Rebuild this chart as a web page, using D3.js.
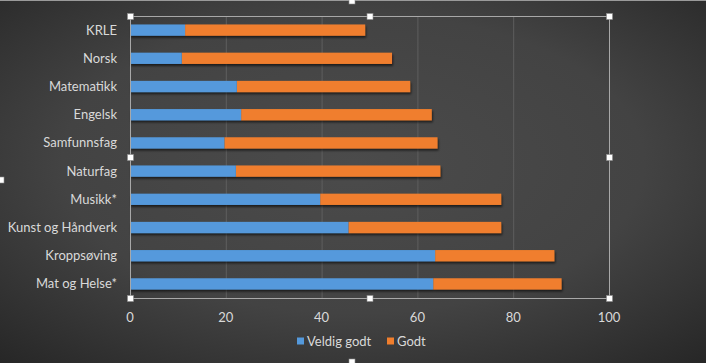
<!DOCTYPE html>
<html>
<head>
<meta charset="utf-8">
<script src="https://cdn.jsdelivr.net/npm/d3@7"></script>
<style>
  html, body { margin: 0; padding: 0; background: #333; }
  svg { display: block; }
  text { font-family: Lato, "Open Sans", sans-serif; }
</style>
</head>
<body>
<div class="vis-bar"></div>
<script>
// data
const subjects = ["KRLE", "Norsk", "Matematikk", "Engelsk", "Samfunnsfag", "Naturfag",
  "Musikk*", "Kunst og Håndverk", "Kroppsøving", "Mat og Helse*"];
const veldigGodt = [11.5, 10.8, 22.3, 23.2, 19.7, 22.1, 39.7, 45.6, 63.7, 63.3];
const godt = [37.6, 43.9, 36.2, 39.8, 44.5, 42.7, 37.8, 31.9, 24.9, 26.8];
const seriesNames = ["Veldig godt", "Godt"];
const xTicks = [0, 20, 40, 60, 80, 100];

const W = 706, H = 363;
const margin = { top: 16, right: 97, bottom: 65, left: 130 };

const svg = d3.select('.vis-bar')
  .append('svg')
  .attr('width', W)
  .attr('height', H);

const defs = svg.append('defs');
const bg = defs.append('radialGradient')
  .attr('id', 'bg')
  .attr('cx', '50%').attr('cy', '45%').attr('r', '75%')
  .attr('gradientTransform', 'translate(0,-0.0) scale(1,1)');
bg.append('stop').attr('offset', '0%').attr('stop-color', '#4b4b4b');
bg.append('stop').attr('offset', '55%').attr('stop-color', '#434343');
bg.append('stop').attr('offset', '100%').attr('stop-color', '#262626');

const shadow = defs.append('filter').attr('id', 'shadow')
  .attr('x', '-5%').attr('y', '-30%').attr('width', '110%').attr('height', '180%');
shadow.append('feDropShadow')
  .attr('dx', 1).attr('dy', 2).attr('stdDeviation', 1.2)
  .attr('flood-color', '#000').attr('flood-opacity', 0.6);

svg.append('rect').attr('width', W).attr('height', H).attr('fill', 'url(#bg)');
// chart frame top edge
svg.append('line').attr('x1', 0).attr('x2', W).attr('y1', 0.5).attr('y2', 0.5)
  .attr('stroke', '#9a9a9a').attr('stroke-width', 1);

const x = d3.scaleLinear().domain([0, 100]).range([margin.left, W - margin.right]);
const y = d3.scaleBand().domain(subjects)
  .range([margin.top, H - margin.bottom]).paddingInner(0.6).paddingOuter(0.3);

// gridlines
svg.append('g').selectAll('line')
  .data(xTicks.slice(1, -1))
  .enter().append('line')
  .attr('x1', d => x(d) + 0.5).attr('x2', d => x(d) + 0.5)
  .attr('y1', margin.top).attr('y2', H - margin.bottom)
  .attr('stroke', '#5e5e5e').attr('stroke-width', 1);

// stacked bars
const rows = subjects.map((s, i) => ({ label: s, a: veldigGodt[i], b: godt[i] }));
const stack = d3.stack().keys(['a', 'b'])(rows);
const color = d3.scaleOrdinal().domain(['a', 'b']).range(['#5499dc', '#f07e2d']);

const barsG = svg.append('g').attr('filter', 'url(#shadow)');
barsG.selectAll('g')
  .data(stack.slice().reverse())
  .enter().append('g')
  .attr('fill', d => color(d.key))
  .selectAll('rect')
  .data(d => d)
  .enter().append('rect')
  .attr('x', d => x(d[0]))
  .attr('width', d => x(d[1]) - x(d[0]))
  .attr('y', d => y(d.data.label))
  .attr('height', y.bandwidth());

// category labels
svg.append('g').selectAll('text')
  .data(subjects)
  .enter().append('text')
  .attr('x', margin.left - 13)
  .attr('y', d => y(d) + y.bandwidth() / 2)
  .attr('dy', '0.35em')
  .attr('text-anchor', 'end')
  .attr('fill', '#d9d9d9')
  .style('font-size', '13px')
  .text(d => d);

// x tick labels
svg.append('g').selectAll('text')
  .data(xTicks)
  .enter().append('text')
  .attr('x', d => x(d))
  .attr('y', 317)
  .attr('dy', '0.35em')
  .attr('text-anchor', 'middle')
  .attr('fill', '#d9d9d9')
  .style('font-size', '13px')
  .text(d => d);

// plot-area selection frame
const px0 = x(0) + 0.5, px1 = x(100) + 0.5, py0 = margin.top + 0.5, py1 = H - margin.bottom + 0.5;
svg.append('rect')
  .attr('x', px0).attr('y', py0)
  .attr('width', px1 - px0).attr('height', py1 - py0)
  .attr('fill', 'none').attr('stroke', '#a8a8a8').attr('stroke-width', 1);

const pxm = (px0 + px1) / 2, pym = (py0 + py1) / 2;
const handles = [[px0, py0], [pxm, py0], [px1, py0], [px0, pym], [px1, pym],
  [px0, py1], [pxm, py1], [px1, py1], [352, 1], [1, 180], [352, 362]];
svg.append('g').selectAll('rect')
  .data(handles)
  .enter().append('rect')
  .attr('x', d => d[0] - 3).attr('y', d => d[1] - 3)
  .attr('width', 6).attr('height', 6)
  .attr('fill', '#fff').attr('stroke', '#8a8a8a').attr('stroke-width', 0.6);

// legend
const legend = svg.append('g').attr('transform', 'translate(297,341)');
const legendX = [0, 90];
const lg = legend.selectAll('g')
  .data(seriesNames)
  .enter().append('g')
  .attr('transform', (d, i) => 'translate(' + legendX[i] + ',0)');
lg.append('rect')
  .attr('y', -3.5).attr('width', 7).attr('height', 7)
  .attr('fill', (d, i) => color(['a', 'b'][i]));
lg.append('text')
  .attr('x', 10).attr('dy', '0.35em')
  .attr('fill', '#d9d9d9')
  .style('font-size', '13px')
  .text(d => d);
</script>
</body>
</html>
